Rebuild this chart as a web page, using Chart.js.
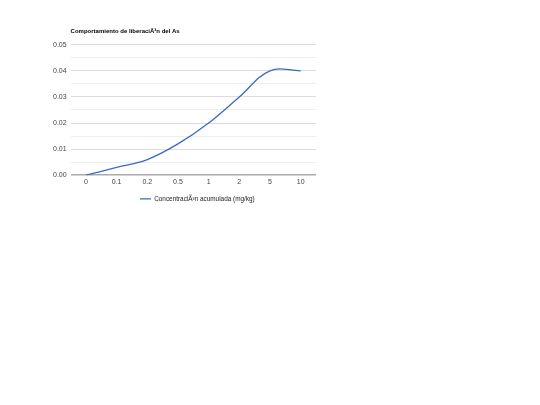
<!DOCTYPE html>
<html>
<head>
<meta charset="utf-8">
<script src="https://cdn.jsdelivr.net/npm/chart.js@4/dist/chart.umd.min.js"></script>
<style>
  html, body { margin: 0; padding: 0; background: #fff; }
  #wrap { width: 540px; height: 405px; }
</style>
</head>
<body>
<div id="wrap"><canvas id="as_chart" width="540" height="405"></canvas></div>
<script>
// valores
var categories = ['0', '0.1', '0.2', '0.5', '1', '2', '5', '10'];
var concentracion = [0, 0.003, 0.006, 0.012, 0.02, 0.03, 0.04, 0.04];
var seriesLabel = 'ConcentraciÃ³n acumulada (mg/kg)';
var chartTitle = 'Comportamiento de liberaciÃ³n del As';
var yMax = 0.05;
var yStep = 0.005;

var FONT = "Arial, 'Liberation Sans', sans-serif";

// title and legend follow the plot area, like the google chart
var alignToArea = {
  id: 'alignToArea',
  afterLayout: function(chart) {
    var a = chart.chartArea;
    chart.titleBlock.left = a.left;
    chart.titleBlock.right = a.right;
    chart.legend.left = a.left + 4;
    chart.legend.right = a.right + 4;
  }
};

new Chart(document.getElementById('as_chart'), {
  type: 'line',
  data: {
    labels: categories,
    datasets: [{
      label: seriesLabel,
      data: concentracion,
      borderColor: '#3d68c4',
      backgroundColor: '#3d68c4',
      borderWidth: 1.3,
      pointRadius: 0,
      tension: 0.4,
      fill: false
    }]
  },
  options: {
    responsive: false,
    animation: false,
    devicePixelRatio: 1,
    layout: { padding: { left: 49, right: 224, top: 28, bottom: 193 } },
    plugins: {
      title: {
        display: true,
        text: chartTitle,
        align: 'start',
        color: '#000',
        font: { family: FONT, size: 6, weight: 'bold' },
        padding: { top: 0, bottom: 9.5 }
      },
      legend: {
        position: 'bottom',
        labels: {
          color: '#222',
          font: { family: FONT, size: 6.4 },
          boxWidth: 11,
          boxHeight: 0,
          padding: 6
        }
      },
      tooltip: { enabled: false }
    },
    scales: {
      x: {
        offset: true,
        grid: { display: false, drawTicks: false, tickLength: 0 },
        border: { display: false },
        ticks: { color: '#444', font: { family: FONT, size: 7 }, padding: 3, maxRotation: 0, autoSkip: false }
      },
      y: {
        min: 0,
        max: yMax,
        border: { display: false },
        grid: {
          drawTicks: false,
          color: function(ctx) {
            var v = ctx.tick.value;
            if (Math.abs(v) < 1e-9) return '#aaa';
            return (Math.round(v * 1000) % 10 === 0) ? '#dcdcdc' : '#eeeeee';
          },
          lineWidth: function(ctx) {
            return Math.abs(ctx.tick.value) < 1e-9 ? 1.5 : 1;
          }
        },
        ticks: {
          stepSize: yStep,
          color: '#444',
          padding: 4,
          font: { family: FONT, size: 7 },
          callback: function(v) {
            return (Math.round(v * 1000) % 10 === 0) ? v.toFixed(2) : '';
          }
        }
      }
    }
  },
  plugins: [alignToArea]
});
</script>
</body>
</html>
